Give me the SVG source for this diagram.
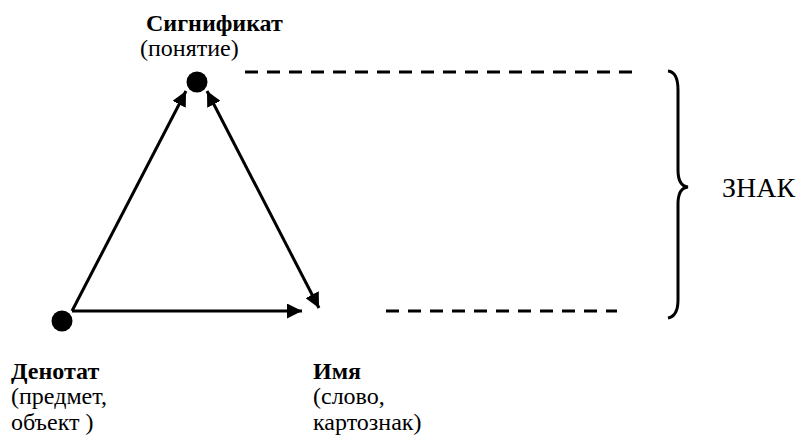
<svg xmlns="http://www.w3.org/2000/svg" width="802" height="443" viewBox="0 0 802 443">
<defs>
<marker id="ah" viewBox="0 0 10 10" refX="10" refY="5" markerWidth="5" markerHeight="5" markerUnits="strokeWidth" orient="auto-start-reverse">
<path d="M0,0 L10,5 L0,10 z" fill="#000"/>
</marker>
</defs>
<rect width="802" height="443" fill="#fff"/>
<g id="signifikat">
<circle cx="197" cy="82" r="10.5" fill="#000"/>
<text x="146" y="31" font-family="Liberation Serif" font-size="24" font-weight="bold" style="font-family:'Liberation Serif','DejaVu Serif',serif !important">Сигнификат</text>
<text x="140" y="56" font-family="Liberation Serif" font-size="24" style="font-family:'Liberation Serif','DejaVu Serif',serif !important">(понятие)</text>
</g>
<g id="denotat">
<circle cx="62" cy="321" r="10.5" fill="#000"/>
<text x="11" y="379" font-family="Liberation Serif" font-size="24" font-weight="bold" style="font-family:'Liberation Serif','DejaVu Serif',serif !important">Денотат</text>
<text x="11" y="404" font-family="Liberation Serif" font-size="24" style="font-family:'Liberation Serif','DejaVu Serif',serif !important">(предмет,</text>
<text x="11" y="430" font-family="Liberation Serif" font-size="24" style="font-family:'Liberation Serif','DejaVu Serif',serif !important">объект )</text>
</g>
<g id="imya">
<text x="313" y="379" font-family="Liberation Serif" font-size="24" font-weight="bold" style="font-family:'Liberation Serif','DejaVu Serif',serif !important">Имя</text>
<text x="313" y="404" font-family="Liberation Serif" font-size="24" style="font-family:'Liberation Serif','DejaVu Serif',serif !important">(слово,</text>
<text x="313" y="430" font-family="Liberation Serif" font-size="24" style="font-family:'Liberation Serif','DejaVu Serif',serif !important">картознак)</text>
</g>
<g id="znak">
<path d="M668,71 Q678,72 678,90 L678,170 Q678,186 688,187 Q678,188 678,204 L678,300 Q678,316 668,318" stroke="#000" stroke-width="3" fill="none"/>
<text x="722" y="197" font-family="Liberation Serif" font-size="28" style="font-family:'Liberation Serif','DejaVu Serif',serif !important">ЗНАК</text>
</g>
<g id="connectors" stroke="#000" stroke-width="3" fill="none">
<line x1="72" y1="311" x2="186" y2="91" marker-end="url(#ah)"/>
<line x1="72" y1="311" x2="302" y2="311" marker-end="url(#ah)"/>
<line x1="207" y1="91" x2="319" y2="308" marker-start="url(#ah)" marker-end="url(#ah)"/>
<line x1="245" y1="72" x2="640" y2="72" stroke-dasharray="13 9"/>
<line x1="386" y1="311" x2="617" y2="311" stroke-dasharray="13 9"/>
</g>
</svg>
